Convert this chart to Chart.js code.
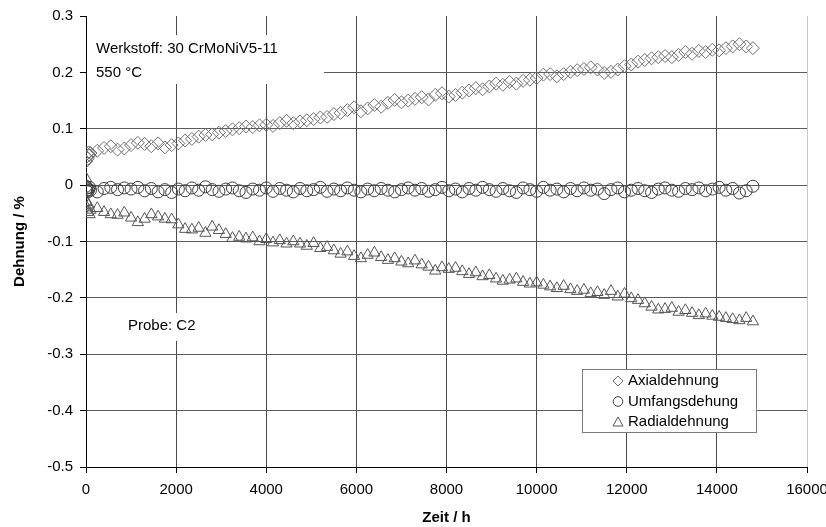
<!DOCTYPE html>
<html lang="de">
<head>
<meta charset="utf-8">
<title>Dehnung über Zeit</title>
<script src="https://cdn.jsdelivr.net/npm/chart.js@4/dist/chart.umd.min.js"></script>
<style>
  html, body { margin: 0; padding: 0; background: #fff; }
  #wrap { width: 826px; height: 527px; }
</style>
</head>
<body>
<div id="wrap"><canvas id="c" width="826" height="527"></canvas></div>
<script>
// Messzeitpunkte in Stunden
const zeit = [
  0, 10, 20, 40, 60, 80, 100,
  250, 400, 550, 700, 850, 1000, 1150, 1300, 1450, 1600,
  1750, 1900, 2050, 2200, 2350, 2500, 2650, 2800, 2950, 3100,
  3250, 3400, 3550, 3700, 3850, 4000, 4150, 4300, 4450, 4600,
  4750, 4900, 5050, 5200, 5350, 5500, 5650, 5800, 5950, 6100,
  6250, 6400, 6550, 6700, 6850, 7000, 7150, 7300, 7450, 7600,
  7750, 7900, 8050, 8200, 8350, 8500, 8650, 8800, 8950, 9100,
  9250, 9400, 9550, 9700, 9850, 10000, 10150, 10300, 10450, 10600,
  10750, 10900, 11050, 11200, 11350, 11500, 11650, 11800, 11950, 12100,
  12250, 12400, 12550, 12700, 12850, 13000, 13150, 13300, 13450, 13600,
  13750, 13900, 14050, 14200, 14350, 14500, 14650, 14800
];

// Dehnung in %
const axialdehnung = [
  0.042, 0.050, 0.056, 0.047, 0.058, 0.053, 0.057,
  0.061, 0.066, 0.069, 0.063, 0.065, 0.071, 0.075, 0.073, 0.069, 0.074,
  0.067, 0.071, 0.074, 0.079, 0.082, 0.086, 0.089, 0.090, 0.093, 0.096,
  0.099, 0.101, 0.104, 0.103, 0.106, 0.107, 0.105, 0.110, 0.114, 0.110,
  0.113, 0.115, 0.117, 0.120, 0.121, 0.126, 0.128, 0.133, 0.138, 0.131,
  0.136, 0.142, 0.139, 0.146, 0.151, 0.147, 0.150, 0.153, 0.156, 0.152,
  0.160, 0.163, 0.157, 0.160, 0.164, 0.168, 0.172, 0.170, 0.175, 0.180,
  0.178, 0.183, 0.180, 0.185, 0.187, 0.190, 0.196, 0.197, 0.193, 0.197,
  0.201, 0.204, 0.206, 0.209, 0.205, 0.199, 0.201, 0.205, 0.211, 0.214,
  0.219, 0.222, 0.225, 0.227, 0.229, 0.227, 0.231, 0.236, 0.233, 0.238,
  0.236, 0.240, 0.239, 0.243, 0.246, 0.250, 0.246, 0.243
];

const umfangsdehnung = [
  -0.002, -0.010, -0.005, -0.012, -0.008, -0.004, -0.009,
  -0.012, -0.006, -0.004, -0.008, -0.005, -0.007, -0.004, -0.010, -0.006, -0.012,
  -0.008, -0.013, -0.007, -0.010, -0.005, -0.009, -0.003, -0.008, -0.011, -0.007,
  -0.005, -0.010, -0.013, -0.007, -0.009, -0.005, -0.011, -0.006, -0.009, -0.012,
  -0.006, -0.010, -0.008, -0.004, -0.011, -0.007, -0.010, -0.005, -0.009, -0.012,
  -0.007, -0.010, -0.006, -0.009, -0.012, -0.008, -0.005, -0.009, -0.006, -0.011,
  -0.008, -0.004, -0.010, -0.007, -0.012, -0.006, -0.009, -0.004, -0.008, -0.011,
  -0.006, -0.010, -0.013, -0.005, -0.008, -0.011, -0.004, -0.009, -0.007, -0.012,
  -0.006, -0.010, -0.005, -0.009, -0.007, -0.015, -0.008, -0.005, -0.012, -0.009,
  -0.006, -0.010, -0.013, -0.007, -0.005, -0.009, -0.011, -0.006, -0.008, -0.005,
  -0.010, -0.007, -0.004, -0.009, -0.006, -0.014, -0.010, -0.002
];

const radialdehnung = [
  0.012, -0.030, -0.040, -0.048, -0.035, -0.052, -0.044,
  -0.041, -0.048, -0.052, -0.053, -0.049, -0.058, -0.066, -0.060, -0.052, -0.056,
  -0.060, -0.061, -0.070, -0.078, -0.079, -0.076, -0.085, -0.074, -0.080, -0.087,
  -0.094, -0.092, -0.095, -0.093, -0.100, -0.096, -0.102, -0.098, -0.104, -0.100,
  -0.104, -0.108, -0.103, -0.112, -0.110, -0.116, -0.122, -0.118, -0.126, -0.130,
  -0.124, -0.120, -0.128, -0.133, -0.130, -0.136, -0.139, -0.134, -0.141, -0.145,
  -0.152, -0.146, -0.149, -0.147, -0.153, -0.158, -0.155, -0.162, -0.160, -0.166,
  -0.170, -0.168, -0.166, -0.172, -0.175, -0.173, -0.177, -0.180, -0.183, -0.179,
  -0.185, -0.188, -0.186, -0.192, -0.190, -0.195, -0.188, -0.198, -0.193, -0.201,
  -0.204, -0.210, -0.216, -0.221, -0.220, -0.218, -0.225, -0.222, -0.227, -0.231,
  -0.228, -0.232, -0.234, -0.236, -0.238, -0.240, -0.236, -0.242
];

const serienNamen = ['Axialdehnung', 'Umfangsdehung', 'Radialdehnung'];
const xBereich = [0, 16000, 2000];
const yBereich = [-0.5, 0.3, 0.1];

const FONT = '"Liberation Sans", Arial, sans-serif';

const punkte = (werte) => zeit.map((t, i) => ({ x: t, y: werte[i] }));

const stile = [
  { pointStyle: 'rectRot', color: '#6e6e6e', radius: 6.5 },
  { pointStyle: 'circle', color: '#3c3c3c', radius: 6 },
  { pointStyle: 'triangle', color: '#555555', radius: 6.5 }
];

// Textfelder und Legende im Diagrammbereich
const beschriftung = {
  id: 'beschriftung',
  beforeDatasetsDraw(chart) {
    const ctx = chart.ctx;
    ctx.save();
    ctx.fillStyle = '#fff';
    ctx.fillRect(87, 35, 237, 49);
    ctx.fillRect(120, 313, 102, 28);
    ctx.fillStyle = '#000';
    ctx.font = '15px ' + FONT;
    ctx.textBaseline = 'middle';
    ctx.textAlign = 'left';
    ctx.fillText('Werkstoff: 30 CrMoNiV5-11', 96, 49);
    ctx.fillText('550 \u00B0C', 96, 72.5);
    ctx.fillText('Probe: C2', 128, 326);
    ctx.restore();
  },
  afterDatasetsDraw(chart) {
    const ctx = chart.ctx;
    ctx.save();
    ctx.fillStyle = '#fff';
    ctx.fillRect(582, 369, 175, 64);
    ctx.strokeStyle = '#7a7a7a';
    ctx.lineWidth = 1;
    ctx.strokeRect(582.5, 369.5, 174, 63);
    const zeilen = [381, 401.5, 422];
    ctx.font = '15px ' + FONT;
    ctx.textBaseline = 'middle';
    ctx.textAlign = 'left';
    serienNamen.forEach((name, i) => {
      const y = zeilen[i];
      const x = 618;
      ctx.strokeStyle = stile[i].color;
      ctx.lineWidth = 1;
      ctx.beginPath();
      if (i === 0) {
        ctx.moveTo(x, y - 5); ctx.lineTo(x + 5, y); ctx.lineTo(x, y + 5); ctx.lineTo(x - 5, y); ctx.closePath();
      } else if (i === 1) {
        ctx.arc(x, y, 4.8, 0, Math.PI * 2);
      } else {
        ctx.moveTo(x, y - 5); ctx.lineTo(x + 5, y + 4); ctx.lineTo(x - 5, y + 4); ctx.closePath();
      }
      ctx.stroke();
      ctx.fillStyle = '#000';
      ctx.fillText(name, 628, y);
    });
    ctx.restore();
  }
};

const datenreihen = [axialdehnung, umfangsdehnung, radialdehnung].map((werte, i) => ({
  label: serienNamen[i],
  data: punkte(werte),
  showLine: false,
  pointStyle: stile[i].pointStyle,
  pointRadius: stile[i].radius,
  pointHoverRadius: stile[i].radius,
  pointBorderWidth: 1,
  borderColor: stile[i].color,
  backgroundColor: 'rgba(0,0,0,0)',
  pointBackgroundColor: 'rgba(0,0,0,0)'
}));

new Chart(document.getElementById('c'), {
  type: 'scatter',
  data: { datasets: datenreihen },
  plugins: [beschriftung],
  options: {
    responsive: false,
    animation: false,
    devicePixelRatio: 1,
    layout: { padding: { top: 16, right: 0, left: 0, bottom: 0 } },
    plugins: {
      legend: { display: false },
      tooltip: { enabled: false }
    },
    scales: {
      x: {
        type: 'linear',
        min: xBereich[0],
        max: xBereich[1],
        afterFit(scale) {
          scale.height = 60;
          scale.paddingRight = 19;
          scale.paddingLeft = 0;
        },
        ticks: {
          stepSize: xBereich[2],
          color: '#000',
          font: { family: FONT, size: 15 },
          padding: 8,
          maxRotation: 0,
          callback: (v) => String(v)
        },
        grid: {
          color: (c) => (c.tick && c.tick.value === xBereich[1]) ? '#c8c8c8' : '#4a4a4a',
          tickColor: '#000',
          tickLength: 6,
          lineWidth: 1
        },
        border: { display: true, color: '#000', width: 1 },
        title: {
          display: true,
          text: 'Zeit / h',
          color: '#000',
          font: { family: FONT, size: 15, weight: 'bold' },
          padding: { top: 0, bottom: 0 }
        }
      },
      y: {
        type: 'linear',
        min: yBereich[0],
        max: yBereich[1],
        afterFit(scale) { scale.width = 86; },
        ticks: {
          stepSize: yBereich[2],
          color: '#000',
          font: { family: FONT, size: 15 },
          padding: 7,
          callback: (v) => {
            const r = Math.round(v * 10) / 10;
            return r === 0 ? '0' : r.toFixed(1);
          }
        },
        grid: {
          color: (c) => (c.tick && Math.abs(c.tick.value - yBereich[1]) < 1e-9) ? 'rgba(0,0,0,0)' : '#5a5a5a',
          tickColor: '#000',
          tickLength: 6,
          lineWidth: 1
        },
        border: { display: true, color: '#000', width: 1 },
        title: {
          display: true,
          text: 'Dehnung / %',
          color: '#000',
          font: { family: FONT, size: 15, weight: 'bold' },
          padding: { top: 11, bottom: 0 }
        }
      }
    }
  }
});
</script>
</body>
</html>
